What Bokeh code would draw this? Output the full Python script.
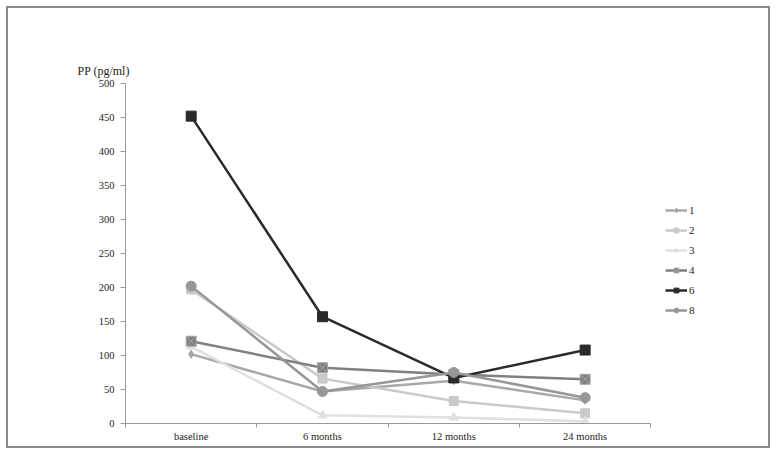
from bokeh.plotting import figure
from bokeh.models import FixedTicker, Legend, LegendItem, Range1d
from bokeh.embed import file_html
from bokeh.resources import INLINE

categories = ["baseline", "6 months", "12 months", "24 months"]
series_names = ["1", "2", "3", "4", "6", "8"]
s1 = [102, 47, 63, 34]
s2 = [197, 66, 33, 15]
s3 = [113, 12, 9, 3]
s4 = [121, 82, 72, 65]
s6 = [452, 157, 67, 108]
s8 = [202, 47, 75, 38]
y_ticks = list(range(0, 501, 50))

series = [s1, s2, s3, s4, s6, s8]
colors = ["#a8a8a8", "#c9c9c9", "#e0e0e0", "#808080", "#2a2a2a", "#979797"]
edge_colors = ["#a8a8a8", "#c9c9c9", "#e0e0e0", "#a6a6a6", "#2a2a2a", "#979797"]
markers = ["diamond", "square", "triangle", "square_x", "square", "circle"]
msizes = [8, 9, 9, 10, 10, 10]

FONT = "Liberation Serif"

# layout (pixels)
W, H = 764, 442
LEFT, TOP, BOTTOM = 117, 75, 27
AXIS_W = 522            # drawn width of x axis
FRAME_W = 632           # plotting frame (extends under the legend)
n = len(categories)

p = figure(width=W, height=H, output_backend="svg", toolbar_location=None,
           x_range=Range1d(0, n * FRAME_W / AXIS_W), y_range=Range1d(0, 500),
           min_border_left=LEFT, min_border_right=W - 4 - LEFT - FRAME_W,
           min_border_top=TOP, min_border_bottom=BOTTOM)
p.styles = {"border": "2px solid #8a8a8a", "box-sizing": "border-box",
            "margin-left": "6px", "margin-top": "6px"}
p.outline_line_color = None
p.xgrid.visible = False
p.ygrid.visible = False

xs = [i + 0.5 for i in range(n)]
items = []
for name, vals, c, ec, m, ms in zip(series_names, series, colors, edge_colors, markers, msizes):
    r1 = p.line(xs, vals, line_color=c, line_width=2.5)
    r2 = p.scatter(xs, vals, marker=m, size=ms, fill_color=c, line_color=ec)
    items.append(LegendItem(label=name, renderers=[r1, r2]))

# x axis
p.xaxis.bounds = (0, n)
p.xaxis.ticker = FixedTicker(ticks=xs, minor_ticks=list(range(n + 1)))
p.xaxis.major_label_overrides = {x: c for x, c in zip(xs, categories)}
p.xaxis.major_tick_out = 0
p.xaxis.major_tick_in = 0
p.xaxis.minor_tick_out = 4
p.xaxis.minor_tick_in = 0
p.xaxis.minor_tick_line_color = "#999999"
p.xaxis.axis_line_color = "#999999"
p.xaxis.major_label_text_font = FONT
p.xaxis.major_label_text_font_size = "10.5px"
p.xaxis.major_label_text_color = "#222222"
p.xaxis.major_label_standoff = 3

# y axis
p.yaxis.ticker = FixedTicker(ticks=y_ticks)
p.yaxis.major_tick_out = 5
p.yaxis.major_tick_in = 0
p.yaxis.major_tick_line_color = "#999999"
p.yaxis.axis_line_color = "#999999"
p.yaxis.minor_tick_line_color = None
p.yaxis.major_label_text_font = FONT
p.yaxis.major_label_text_font_size = "10.5px"
p.yaxis.major_label_text_color = "#222222"
p.yaxis.major_label_standoff = 6

p.title.text = "PP (pg/ml)"
p.title.align = "left"
p.title.offset = -48
p.title.text_font = FONT
p.title.text_font_size = "12px"
p.title.text_font_style = "normal"
p.title.text_color = "#222222"
p.title.standoff = 12

legend = Legend(items=items, location=(AXIS_W + 18, 107), border_line_color=None,
                background_fill_alpha=0, label_text_font=FONT, label_text_font_size="11px",
                label_text_color="#222222", glyph_width=22, glyph_height=12, label_height=12,
                label_standoff=2, spacing=8, padding=0, margin=0)
p.add_layout(legend)

open("out.html", "w").write(file_html(p, INLINE))
